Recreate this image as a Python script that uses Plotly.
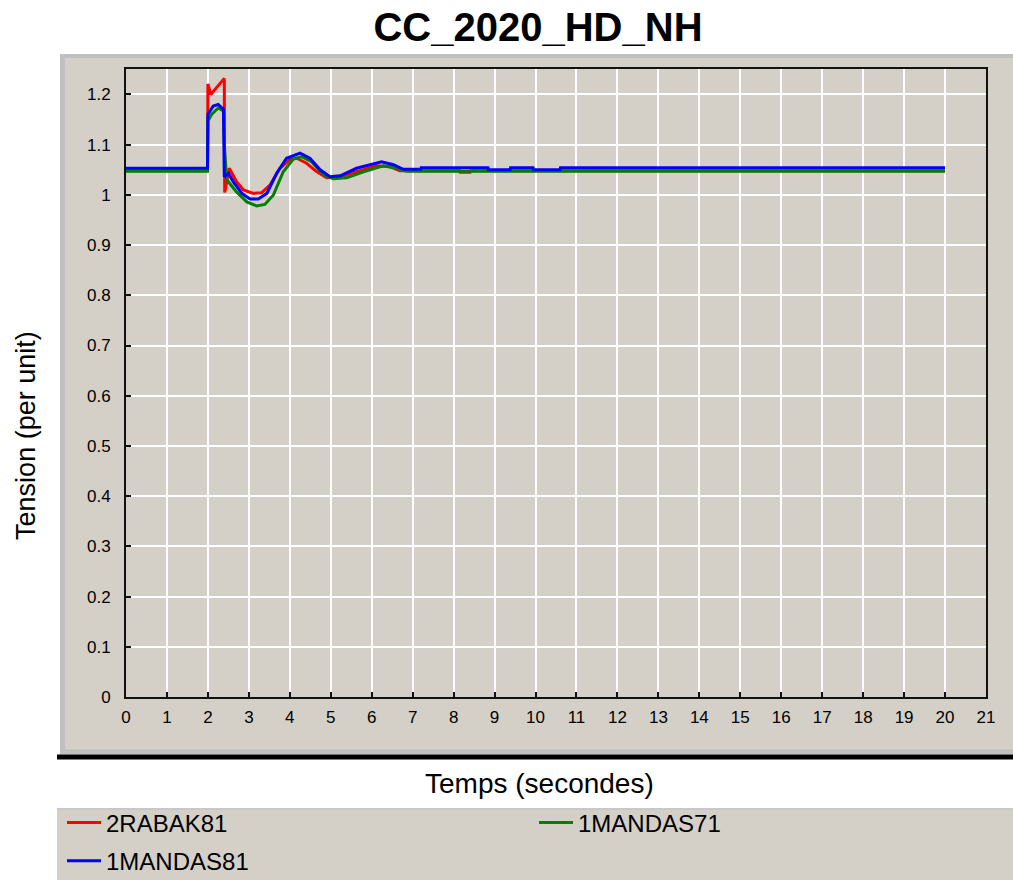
import plotly.graph_objects as go

# ---------------- data ----------------
t_red = [0, 1.99, 2.00, 2.07, 2.38, 2.40, 2.41, 2.52, 2.70, 2.87, 3.11, 3.31, 3.52, 3.76,
         4.00, 4.17, 4.41, 4.66, 4.90, 5.23, 5.63, 6.12, 6.45, 6.69, 8.15, 8.16, 8.40, 8.41, 20]
v_red = [1.048, 1.048, 1.221, 1.200, 1.230, 1.232, 1.005, 1.053, 1.026, 1.010, 1.003, 1.004, 1.020, 1.053,
         1.070, 1.073, 1.063, 1.046, 1.034, 1.036, 1.046, 1.058, 1.056, 1.048, 1.048, 1.045, 1.045, 1.048, 1.048]

t_green = [0, 1.99, 2.00, 2.09, 2.25, 2.38, 2.40, 2.46, 2.70, 2.95, 3.19, 3.39, 3.60, 3.84,
           4.09, 4.29, 4.53, 4.82, 5.06, 5.39, 5.80, 6.28, 6.61, 6.85, 20]
v_green = [1.047, 1.047, 1.147, 1.160, 1.173, 1.167, 1.100, 1.030, 1.006, 0.986, 0.978, 0.981, 1.000, 1.046,
           1.072, 1.076, 1.066, 1.040, 1.032, 1.034, 1.046, 1.058, 1.053, 1.047, 1.047]

t_blue = [0, 1.99, 2.00, 2.13, 2.25, 2.38, 2.40, 2.50, 2.62, 2.83, 3.03, 3.23, 3.44, 3.68,
          3.92, 4.25, 4.49, 4.74, 4.98, 5.23, 5.63, 6.24, 6.53, 6.77, 7.20, 7.21,
          8.84, 8.85, 9.38, 9.39, 9.94, 9.95, 10.60, 10.61, 20]
v_blue = [1.053, 1.053, 1.160, 1.177, 1.180, 1.170, 1.036, 1.043, 1.026, 1.003, 0.992, 0.992, 1.003, 1.043,
          1.073, 1.083, 1.073, 1.050, 1.036, 1.038, 1.053, 1.066, 1.060, 1.051, 1.051, 1.054,
          1.054, 1.050, 1.050, 1.054, 1.054, 1.050, 1.050, 1.054, 1.054]

series_names = ["2RABAK81", "1MANDAS71", "1MANDAS81"]
series_colors = ["#ff0000", "#008000", "#0000ff"]
series_legends = ["legend", "legend", "legend2"]

x_ticks = list(range(0, 22))
y_ticks = [round(i * 0.1, 1) for i in range(13)]

title_text = "CC_2020_HD_NH"
x_title = "Temps (secondes)"
y_title = "Tension (per unit)"

# ---------------- layout geometry ----------------
W = 1013
H_REF = 880
HF = 896                      # figure height (the viewer maps it back to 880)
S = HF / H_REF


def Y(y):
    return y * S


L, R = 126, 27
T = Y(68)
B = HF - Y(691)
PW = W - L - R
PH = HF - T - B


def px(x):
    return (x - L) / PW


def py(y):
    return (HF - B - Y(y)) / PH


BG = "#d4d0c8"
FONT = "Liberation Sans, Arial, sans-serif"

fig = go.Figure()
for t, v, name, col, lg in zip([t_red, t_green, t_blue], [v_red, v_green, v_blue],
                               series_names, series_colors, series_legends):
    fig.add_trace(go.Scatter(x=t, y=v, mode="lines", name=name, legend=lg,
                             line=dict(color=col, width=3)))

shapes = [
    dict(type="rect", xref="paper", yref="paper", x0=px(60), x1=px(1013), y0=py(748), y1=py(53),
         fillcolor="#c0c0c0", line_width=0, layer="below"),
    dict(type="rect", xref="paper", yref="paper", x0=px(65), x1=px(1013), y0=py(743), y1=py(57),
         fillcolor=BG, line_width=0, layer="below"),
    dict(type="rect", xref="paper", yref="paper", x0=px(57), x1=px(1013), y0=py(753), y1=py(748),
         fillcolor="#000000", line_width=0, layer="below"),
    dict(type="rect", xref="paper", yref="paper", x0=px(57), x1=px(1013), y0=py(880), y1=py(801),
         fillcolor=BG, line_width=0, layer="below"),
    dict(type="rect", xref="paper", yref="paper", x0=px(57), x1=px(1013), y0=py(803), y1=py(801),
         fillcolor="#c8c8c8", line_width=0, layer="below"),
]

annotations = [
    dict(text=x_title, xref="paper", yref="paper", x=px(539), y=py(777),
         xanchor="center", yanchor="middle", showarrow=False,
         font=dict(family=FONT, size=28, color="#000000")),
    dict(text=y_title, xref="paper", yref="paper", x=px(26), y=py(432),
         xanchor="center", yanchor="middle", showarrow=False, textangle=-90,
         font=dict(family=FONT, size=27, color="#000000")),
]

legend_common = dict(orientation="h", xanchor="left", yanchor="top",
                     bgcolor="rgba(0,0,0,0)", borderwidth=0,
                     font=dict(family=FONT, size=24, color="#000000"),
                     entrywidth=423, entrywidthmode="pixels", itemwidth=34,
                     traceorder="normal")

fig.update_layout(
    width=W, height=HF,
    margin=dict(l=L, r=R, t=T, b=B, pad=0),
    paper_bgcolor="#ffffff",
    plot_bgcolor=BG,
    font=dict(family=FONT, color="#000000"),
    title=dict(text=title_text, x=538 / W, xref="container", xanchor="center",
               y=1 - Y(27) / HF, yref="container", yanchor="middle",
               font=dict(family=FONT, size=40, color="#000000", weight="bold")),
    shapes=shapes,
    annotations=annotations,
    showlegend=True,
    legend=dict(x=px(62), y=(HF - B - (Y(820) - 27)) / PH, **legend_common),
    legend2=dict(x=px(62), y=(HF - B - (Y(858) - 27)) / PH, **legend_common),
)

fig.update_xaxes(range=[0, 21], tickvals=x_ticks, ticktext=[str(v) for v in x_ticks],
                 showgrid=True, gridcolor="#ffffff", gridwidth=2, zeroline=False,
                 showline=True, linecolor="#111111", linewidth=2, mirror=True,
                 ticks="inside", ticklen=5, tickwidth=1.5, tickcolor="#111111",
                 tickfont=dict(family=FONT, size=17, color="#000000"),
                 ticklabelstandoff=4)
fig.update_yaxes(range=[0, 1.2507], tickvals=y_ticks,
                 ticktext=[("%g" % v) for v in y_ticks],
                 showgrid=True, gridcolor="#ffffff", gridwidth=2, zeroline=False,
                 showline=True, linecolor="#111111", linewidth=2, mirror=True,
                 ticks="inside", ticklen=5, tickwidth=1.5, tickcolor="#111111",
                 tickfont=dict(family=FONT, size=17, color="#000000"),
                 ticklabelstandoff=10)

fig.write_html("out.html", config={"displayModeBar": False},
               post_script="document.body.style.margin='0px';")
